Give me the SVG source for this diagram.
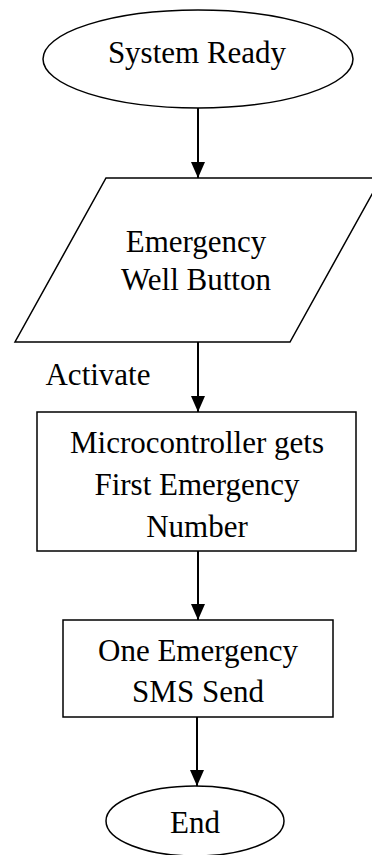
<svg xmlns="http://www.w3.org/2000/svg" width="372" height="855" viewBox="0 0 372 855">
<style>
.s{fill:#fff;stroke:#000;stroke-width:1.5}
.t{font-family:"Liberation Serif","Times New Roman",serif;font-size:31px;fill:#000;text-anchor:middle}
.c{stroke:#000;stroke-width:2;fill:none;marker-end:url(#ah)}
</style>
<defs>
<marker id="ah" markerUnits="userSpaceOnUse" markerWidth="16" markerHeight="16" viewBox="0 0 16 16" refX="16" refY="8" orient="auto">
<path d="M0,1 L16,8 L0,15 Z" fill="#000"/>
</marker>
</defs>
<g id="connectors">
<line class="c" x1="198" y1="108" x2="198" y2="178"/>
<line class="c" x1="198" y1="342" x2="198" y2="412"/>
<line class="c" x1="198" y1="551" x2="198" y2="620"/>
<line class="c" x1="197" y1="717" x2="197" y2="786"/>
</g>
<g id="start">
<ellipse class="s" cx="198" cy="59" rx="155" ry="49"/>
<text class="t" x="197" y="63">System Ready</text>
</g>
<g id="input">
<polygon class="s" points="106,178 381,178 290,342 15,342"/>
<text class="t" x="196" y="252">Emergency</text>
<text class="t" x="196" y="290">Well Button</text>
</g>
<text id="label-activate" class="t" x="98" y="385">Activate</text>
<g id="process1">
<rect class="s" x="37" y="412" width="319" height="139"/>
<text class="t" x="197" y="453">Microcontroller gets</text>
<text class="t" x="197" y="495">First Emergency</text>
<text class="t" x="197" y="537">Number</text>
</g>
<g id="process2">
<rect class="s" x="63" y="620" width="270" height="97"/>
<text class="t" x="198" y="661">One Emergency</text>
<text class="t" x="198" y="702">SMS Send</text>
</g>
<g id="end">
<ellipse class="s" cx="195" cy="821" rx="89" ry="35"/>
<text class="t" x="195" y="833">End</text>
</g>
</svg>
